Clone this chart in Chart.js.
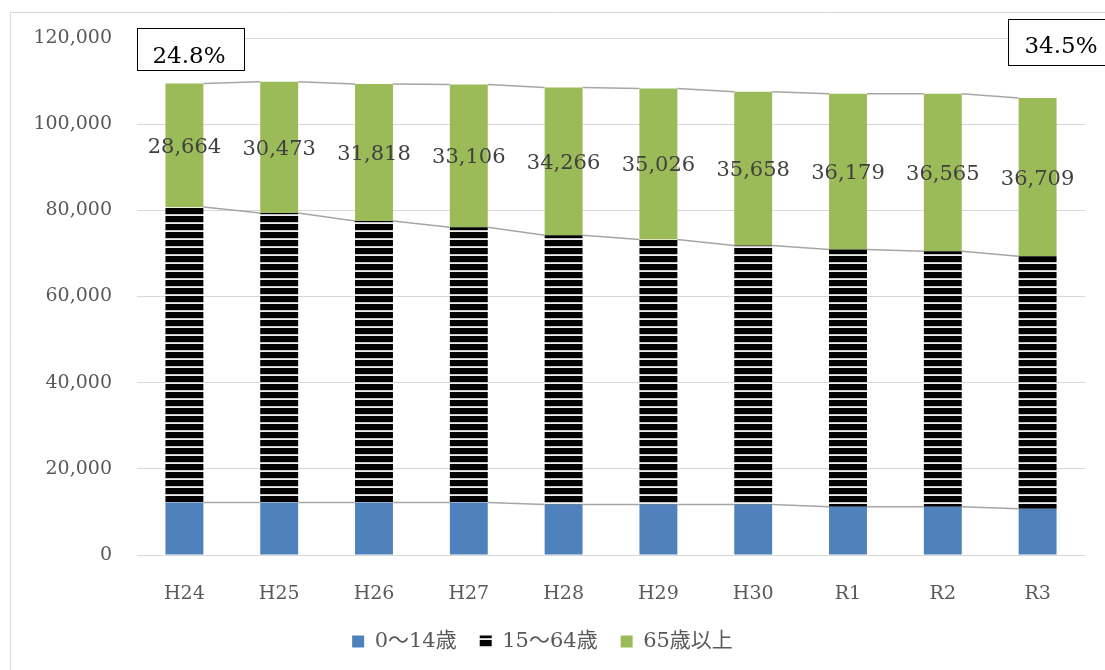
<!DOCTYPE html>
<html>
<head>
<meta charset="utf-8">
<script src="https://cdn.jsdelivr.net/npm/chart.js@4.4.1/dist/chart.umd.min.js"></script>
<style>
  html, body { margin: 0; padding: 0; background: #fff; }
  #wrap { width: 1105px; height: 670px; position: relative; }
</style>
</head>
<body>
<div id="wrap"><canvas id="popChart"></canvas></div>
<script>
const years = ['H24', 'H25', 'H26', 'H27', 'H28', 'H29', 'H30', 'R1', 'R2', 'R3'];
const young = [12200, 12200, 12200, 12200, 11730, 11700, 11700, 11200, 11200, 10730];
const working = [68570, 67170, 65300, 63900, 62510, 61540, 60140, 59700, 59300, 58610];
const elderly = [28664, 30473, 31818, 33106, 34266, 35026, 35658, 36179, 36565, 36709];
const ratioFirst = '24.8%';
const ratioLast = '34.5%';

const serif = '"DejaVu Serif", "Noto Sans CJK JP", serif';

// black bars with thin light stripes
function stripePattern() {
  const c = document.createElement('canvas');
  c.width = 8;
  c.height = 8;
  const g = c.getContext('2d');
  g.fillStyle = '#000';
  g.fillRect(0, 0, 8, 6);
  g.fillStyle = '#c4c4c4';
  g.fillRect(0, 6, 8, 1);
  g.fillStyle = '#eeeeee';
  g.fillRect(0, 7, 8, 1);
  return g.createPattern(c, 'repeat');
}

const seriesLines = {
  id: 'seriesLines',
  afterDatasetsDraw(chart) {
    const ctx = chart.ctx;
    ctx.save();
    ctx.strokeStyle = '#a6a6a6';
    ctx.lineWidth = 1.5;
    chart.data.datasets.forEach((ds, di) => {
      const bars = chart.getDatasetMeta(di).data;
      for (let i = 0; i < bars.length - 1; i++) {
        const a = bars[i], b = bars[i + 1];
        ctx.beginPath();
        ctx.moveTo(a.x + a.width / 2, a.y);
        ctx.lineTo(b.x - b.width / 2, b.y);
        ctx.stroke();
      }
    });
    ctx.restore();
  }
};

const barLabels = {
  id: 'barLabels',
  afterDatasetsDraw(chart) {
    const ctx = chart.ctx;
    const bars = chart.getDatasetMeta(2).data;
    ctx.save();
    ctx.font = '21px ' + serif;
    ctx.fillStyle = '#404040';
    ctx.textAlign = 'center';
    ctx.textBaseline = 'middle';
    bars.forEach((el, i) => {
      ctx.fillText(elderly[i].toLocaleString('en-US'), el.x, (el.y + el.base) / 2 + 2);
    });
    ctx.restore();
  }
};

const frameAndBoxes = {
  id: 'frameAndBoxes',
  afterDraw(chart) {
    const ctx = chart.ctx;
    ctx.save();
    // outer chart frame
    ctx.strokeStyle = '#d9d9d9';
    ctx.lineWidth = 1;
    ctx.beginPath();
    ctx.moveTo(10.5, 670);
    ctx.lineTo(10.5, 12.5);
    ctx.lineTo(1105, 12.5);
    ctx.stroke();

    function box(x, y, w, h, txt, tx, ty) {
      ctx.fillStyle = '#fff';
      ctx.fillRect(x, y, w, h);
      ctx.strokeStyle = '#000';
      ctx.lineWidth = 1;
      ctx.strokeRect(x + 0.5, y + 0.5, w, h);
      ctx.fillStyle = '#000';
      ctx.font = '23px ' + serif;
      ctx.textAlign = 'center';
      ctx.textBaseline = 'middle';
      ctx.fillText(txt, tx, ty);
    }
    box(137, 28, 107, 42, ratioFirst, 189, 57);
    box(1008, 19, 110, 46, ratioLast, 1061, 47);
    ctx.restore();
  }
};

Chart.defaults.font.family = serif;
Chart.defaults.color = '#595959';

new Chart(document.getElementById('popChart'), {
  type: 'bar',
  data: {
    labels: years,
    datasets: [
      { label: '0〜14歳', data: young, backgroundColor: '#4f81bd' },
      { label: '15〜64歳', data: working, backgroundColor: stripePattern() },
      { label: '65歳以上', data: elderly, backgroundColor: '#9bbb59' }
    ]
  },
  options: {
    responsive: true,
    maintainAspectRatio: false,
    animation: false,
    layout: { padding: { top: 38, right: 20, left: 0, bottom: 8 } },
    datasets: { bar: { categoryPercentage: 1.0, barPercentage: 0.4 } },
    scales: {
      x: {
        stacked: true,
        afterFit(scale) { scale.height = 53; },
        grid: { display: false },
        border: { display: false },
        ticks: { font: { size: 19 }, color: '#595959', padding: 20 }
      },
      y: {
        stacked: true,
        min: 0,
        max: 120000,
        afterFit(scale) { scale.width = 137; },
        grid: { color: '#d9d9d9', lineWidth: 1, drawTicks: false },
        border: { display: false },
        ticks: {
          stepSize: 20000,
          padding: 25,
          font: { size: 19 },
          color: '#595959',
          callback: v => v.toLocaleString('en-US')
        }
      }
    },
    plugins: {
      legend: {
        position: 'bottom',
        labels: { boxWidth: 12, boxHeight: 12, padding: 23, font: { size: 21 }, color: '#595959' }
      },
      tooltip: { enabled: false }
    }
  },
  plugins: [seriesLines, barLabels, frameAndBoxes]
});
</script>
</body>
</html>
